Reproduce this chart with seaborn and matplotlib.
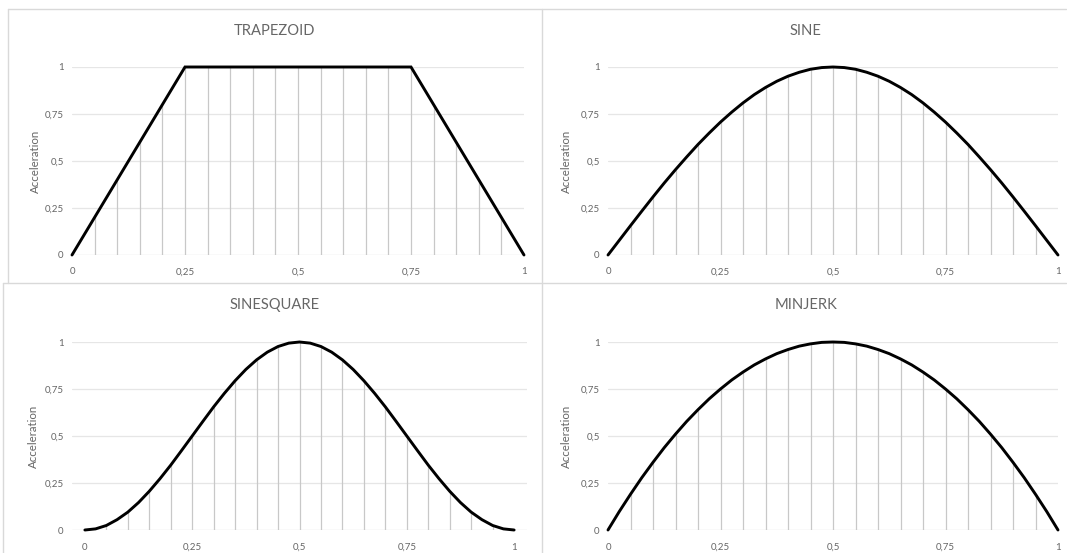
import matplotlib
matplotlib.use("Agg")
import matplotlib.pyplot as plt
import seaborn as sns
from matplotlib.lines import Line2D

# Normalised time of the motion profile, sampled every 0.025
t = [0.000, 0.025, 0.050, 0.075, 0.100, 0.125, 0.150, 0.175, 0.200, 0.225,
     0.250, 0.275, 0.300, 0.325, 0.350, 0.375, 0.400, 0.425, 0.450, 0.475,
     0.500, 0.525, 0.550, 0.575, 0.600, 0.625, 0.650, 0.675, 0.700, 0.725,
     0.750, 0.775, 0.800, 0.825, 0.850, 0.875, 0.900, 0.925, 0.950, 0.975,
     1.000]

trapezoid = [0.000, 0.100, 0.200, 0.300, 0.400, 0.500, 0.600, 0.700, 0.800, 0.900,
             1.000, 1.000, 1.000, 1.000, 1.000, 1.000, 1.000, 1.000, 1.000, 1.000,
             1.000, 1.000, 1.000, 1.000, 1.000, 1.000, 1.000, 1.000, 1.000, 1.000,
             1.000, 0.900, 0.800, 0.700, 0.600, 0.500, 0.400, 0.300, 0.200, 0.100,
             0.000]

sine = [0.000, 0.078, 0.156, 0.233, 0.309, 0.383, 0.454, 0.522, 0.588, 0.649,
        0.707, 0.760, 0.809, 0.853, 0.891, 0.924, 0.951, 0.972, 0.988, 0.997,
        1.000, 0.997, 0.988, 0.972, 0.951, 0.924, 0.891, 0.853, 0.809, 0.760,
        0.707, 0.649, 0.588, 0.522, 0.454, 0.383, 0.309, 0.233, 0.156, 0.078,
        0.000]

sinesquare = [0.000, 0.006, 0.024, 0.055, 0.095, 0.146, 0.206, 0.273, 0.345, 0.422,
              0.500, 0.578, 0.655, 0.727, 0.794, 0.854, 0.905, 0.946, 0.976, 0.994,
              1.000, 0.994, 0.976, 0.946, 0.905, 0.854, 0.794, 0.727, 0.655, 0.578,
              0.500, 0.422, 0.345, 0.273, 0.206, 0.146, 0.095, 0.055, 0.024, 0.006,
              0.000]

minjerk = [0.000, 0.098, 0.190, 0.278, 0.360, 0.438, 0.510, 0.578, 0.640, 0.698,
           0.750, 0.798, 0.840, 0.878, 0.910, 0.938, 0.960, 0.978, 0.990, 0.998,
           1.000, 0.998, 0.990, 0.978, 0.960, 0.938, 0.910, 0.878, 0.840, 0.798,
           0.750, 0.698, 0.640, 0.578, 0.510, 0.438, 0.360, 0.278, 0.190, 0.098,
           0.000]

titles = ["TRAPEZOID", "SINE", "SINESQUARE", "MINJERK"]
series = [trapezoid, sine, sinesquare, minjerk]

x_ticks = [0, 0.25, 0.5, 0.75, 1]
x_tick_labels = ["0", "0,25", "0,5", "0,75", "1"]
y_ticks = [0, 0.25, 0.5, 0.75, 1]
y_tick_labels = ["0", "0,25", "0,5", "0,75", "1"]
y_label = "Acceleration"

sns.set_theme(style="white")
plt.rcParams["font.family"] = ["Lato", "DejaVu Sans"]

W, H = 1067, 553
TEXT = "#666666"
fig = plt.figure(figsize=(W / 100, H / 100), dpi=100)
fig.patch.set_facecolor("white")


def px_axes(left, right, top, bottom):
    return fig.add_axes([left / W, 1 - bottom / H, (right - left) / W, (bottom - top) / H])


def px_line(x0, y0, x1, y1, color="#d9d9d9"):
    fig.add_artist(Line2D([x0 / W, x1 / W], [1 - y0 / H, 1 - y1 / H],
                          color=color, lw=1.0, transform=fig.transFigure))


# chart frames
px_line(8, 9, 1066, 9)
px_line(8, 9, 8, 283)
px_line(3, 283, 3, 553)
px_line(542, 9, 542, 553)
px_line(3, 283, 1066, 283)

# plot areas (pixel boxes), x-limits, panel centres and title rows
layout = [
    dict(box=(72, 524, 67, 255), xlim=(0, 1), cx=275, ty=31, lab_x=35),
    dict(box=(608, 1058, 67, 255), xlim=(0, 1), cx=806, ty=31, lab_x=566),
    dict(box=(72, 527, 342, 530), xlim=(-0.03, 1.03), cx=275, ty=305, lab_x=33),
    dict(box=(608, 1058, 342, 530), xlim=(0, 1), cx=806, ty=305, lab_x=566),
]

for spec, title, vals in zip(layout, titles, series):
    left, right, top, bottom = spec["box"]
    ax = px_axes(left, right, top, bottom)
    ax.set_facecolor("white")
    ax.set_xlim(*spec["xlim"])
    ax.set_ylim(0, 1)

    # horizontal gridlines and baseline
    for yv in y_ticks[1:]:
        ax.axhline(yv, color="#e6e6e6", lw=0.9, zorder=0)
    ax.axhline(0, color="#d4d4d4", lw=0.9, zorder=0)

    # drop lines every 0.05 from the baseline up to the curve
    xd = t[2:-1:2]
    yd = vals[2:-1:2]
    ax.vlines(xd, 0, yd, color="#c8c8c8", lw=0.9, zorder=1)

    sns.lineplot(x=t, y=vals, ax=ax, color="black", lw=2.1, zorder=3,
                 clip_on=False, solid_joinstyle="miter")

    ax.set_xticks(x_ticks)
    ax.set_xticklabels(x_tick_labels)
    ax.set_yticks(y_ticks)
    ax.set_yticklabels(y_tick_labels)
    ax.tick_params(axis="both", length=0, labelsize=7, labelcolor=TEXT)
    ax.tick_params(axis="x", pad=9)
    ax.tick_params(axis="y", pad=6)
    ax.grid(False)
    for s in ax.spines.values():
        s.set_visible(False)

    ax.set_xlabel("")
    ax.set_ylabel(y_label, fontsize=8.3, color=TEXT)
    ax.yaxis.label.set_va("center")
    ax.yaxis.set_label_coords((spec["lab_x"] - left) / (right - left), 0.5)

    fig.text(spec["cx"] / W, 1 - spec["ty"] / H, title, ha="center", va="center",
             fontsize=10.6, color=TEXT)

fig.savefig("out.png", dpi=100, facecolor="white")
